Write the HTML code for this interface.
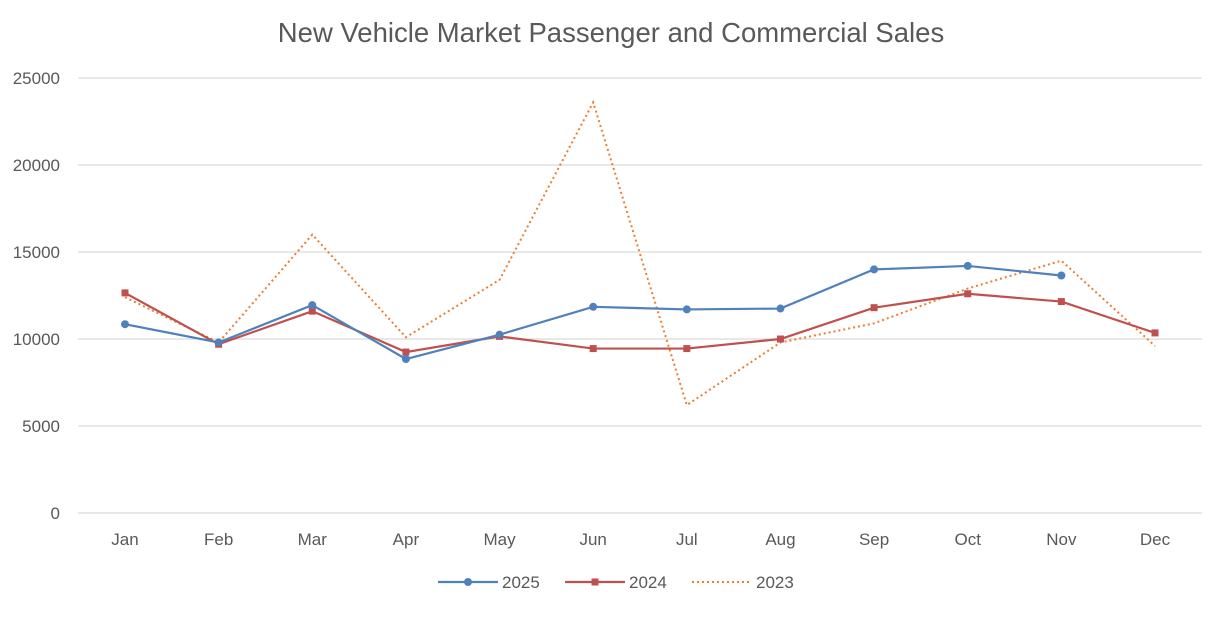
<!DOCTYPE html>
<html><head><meta charset="utf-8"><style>
body{margin:0;background:#fff;font-family:"Liberation Sans",sans-serif}
svg text{font-family:"Liberation Sans",sans-serif;fill:#595959}
</style></head><body>
<svg id="c" width="1222" height="614"></svg>
<script>
const categories=["Jan","Feb","Mar","Apr","May","Jun","Jul","Aug","Sep","Oct","Nov","Dec"];
const s2025=[10850,9800,11950,8850,10250,11850,11700,11750,14000,14200,13650,null];
const s2024=[12650,9700,11600,9250,10150,9450,9450,10000,11800,12600,12150,10350];
const s2023=[12400,9800,16000,10100,13400,23600,6200,9800,10900,12900,14500,9600];
const yTicks=[0,5000,10000,15000,20000,25000];
const NS="http://www.w3.org/2000/svg";
const svg=document.getElementById('c');
const L=78,R=1202,T=78,B=513;
const x=i=>125+i*(1155-125)/11;
const y=v=>B-(v/25000)*(B-T);
function el(t,a){const e=document.createElementNS(NS,t);for(const k in a)e.setAttribute(k,a[k]);svg.appendChild(e);return e;}
const title=el('text',{x:611,y:42,'text-anchor':'middle','font-size':27.5});
title.textContent="New Vehicle Market Passenger and Commercial Sales";


yTicks.forEach(v=>{
  const g=el('line',{x1:L,x2:R,y1:y(v),y2:y(v),stroke:'#d9d9d9','stroke-width':1.3});
  
  
  const t=el('text',{x:60,y:y(v)+6,'text-anchor':'end','font-size':17});
  t.textContent=v;
  
  
});
categories.forEach((c,i)=>{
  const t=el('text',{x:x(i),y:545,'text-anchor':'middle','font-size':17});
  t.textContent=c;
  
  
});
function series(d,color,name,marker,dash){
  const pts=d.map((v,i)=>v==null?null:[x(i),y(v)]).filter(p=>p);
  const p=el('polyline',{points:pts.map(p=>p.join(',')).join(' '),fill:'none',stroke:color,'stroke-width':dash?2:2.2,'stroke-dasharray':dash?'2,3':'none'});
  
  
  pts.forEach(q=>{
    let m=null;
    if(marker==='circle')m=el('circle',{cx:q[0],cy:q[1],r:4,fill:color});
    else if(marker==='square')m=el('rect',{x:q[0]-3.5,y:q[1]-3.5,width:7,height:7,fill:color});
    if(m){
    }
  });
}
series(s2023,'#ed7d31','2023',null,true);
series(s2024,'#c0504d','2024','square',false);
series(s2025,'#4f81bd','2025','circle',false);
const leg=[['2025','#4f81bd','circle',false,438],['2024','#c0504d','square',false,565],['2023','#ed7d31',null,true,692]];
leg.forEach(l=>{
  const ln=el('line',{x1:l[4],x2:l[4]+60,y1:582,y2:582,stroke:l[1],'stroke-width':l[3]?2:2.2,'stroke-dasharray':l[3]?'2,3':'none'});
  
  
  if(l[2]==='circle')el('circle',{cx:l[4]+30,cy:582,r:4,fill:l[1]});
  if(l[2]==='square')el('rect',{x:l[4]+26.5,y:578.5,width:7,height:7,fill:l[1]});
  const t=el('text',{x:l[4]+64,y:588,'font-size':17});
  t.textContent=l[0];
  
  
});
</script>
</body></html>
